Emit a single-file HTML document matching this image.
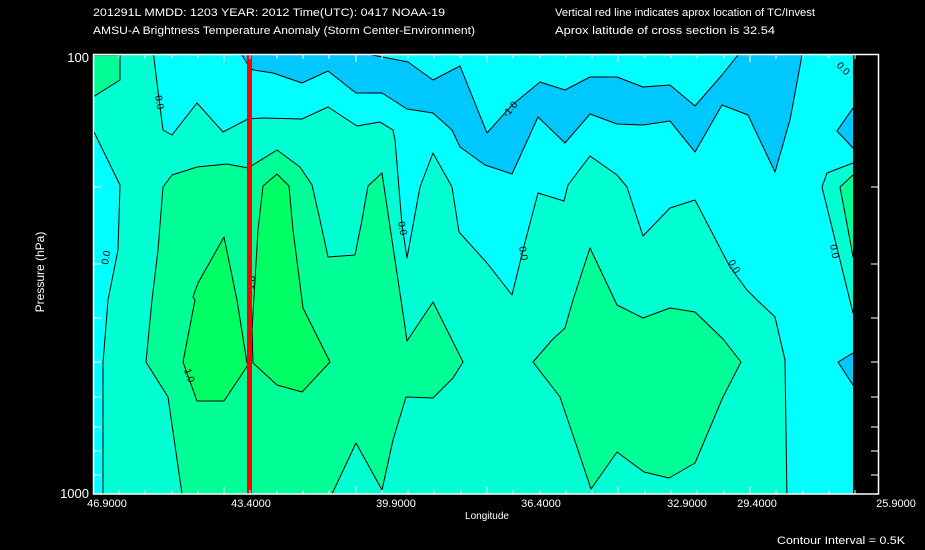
<!DOCTYPE html>
<html><head><meta charset="utf-8"><style>
html,body{margin:0;padding:0;background:#000;}
svg{display:block;}
text{font-family:"Liberation Sans",sans-serif;fill:#fff;}
</style></head><body>
<svg width="925" height="550" viewBox="0 0 925 550" xmlns="http://www.w3.org/2000/svg">
<rect width="925" height="550" fill="#000"/>
<text x="93" y="16" font-size="11" textLength="352" lengthAdjust="spacingAndGlyphs">201291L  MMDD: 1203 YEAR: 2012 Time(UTC): 0417 NOAA-19</text>
<text x="93" y="34" font-size="11" textLength="382" lengthAdjust="spacingAndGlyphs">AMSU-A Brightness Temperature Anomaly (Storm Center-Environment)</text>
<text x="555" y="16" font-size="11" textLength="260" lengthAdjust="spacingAndGlyphs">Vertical red line indicates aprox location of TC/Invest</text>
<text x="555" y="34" font-size="11" textLength="220" lengthAdjust="spacingAndGlyphs">Aprox latitude of cross section is 32.54</text>
<defs><clipPath id="c"><rect x="93" y="55" width="760" height="439"/></clipPath></defs>
<g clip-path="url(#c)" stroke="#000" stroke-width="1" stroke-linejoin="round">
<rect x="93" y="55" width="760" height="439" fill="#00ffd2" stroke="none"/>
<polygon fill="#00ff96" points="93,55 120,55 120,80 93,97"/>
<polygon fill="#00ffff" points="93,125 93,130 120,185 118,250 108,300 103,363 103,494 80,494 80,125"/>
<polygon fill="#00ffff" points="153,50 157,83 163,130 172,135 197,103 223,132 248,119 262,118 302,119 328,107 357,126 380,122 393,130 395,140 402,225 407,258 420,187 433,153 452,187 459,232 487,263 512,295 523,250 538,193 564,201 568,185 590,156 617,175 627,187 643,236 670,208 695,200 730,267 747,290 757,300 775,317 785,360 787,500 860,500 860,313 853,313 822,187 827,173 853,163 860,163 860,50"/>
<polygon fill="#00c8ff" points="242,50 242,55 248,65 253,70 273,73 302,83 328,71 356,93 382,93 407,109 433,113 452,130 460,147 485,165 512,174 538,117 565,143 590,114 617,124 643,125 670,121 695,152 722,105 748,115 775,172 790,120 803,50 738,50 738,55 722,75 695,106 670,85 643,87 617,77 590,77 565,90 540,82 512,105 487,133 460,66 433,80 408,62 372,55 372,50"/>
<polygon fill="#00c8ff" points="860,108 853,108 837,131 853,148 860,148"/>
<polygon fill="#00c8ff" points="860,353 853,353 838,362 853,385 860,385"/>
<polygon fill="#00ff96" points="860,175 853,175 840,187 850,240 853,257 860,257"/>
<polygon fill="#00ff96" points="182,500 182,494 168,397 146,362 152,300 158,250 163,187 172,175 197,167 227,164 248,168 277,150 300,167 312,185 320,220 328,257 355,255 362,220 368,186 382,173 389,220 404,320 407,341 433,302 463,362 453,378 433,398 406,397 393,440 382,490 356,443 332,494 332,500"/>
<polygon fill="#00ff96" points="590,248 617,305 643,318 670,308 695,312 723,339 741,362 723,397 695,463 669,478 644,472 617,452 591,489 577,447 560,397 533,362 552,340 565,328 573,300"/>
<polygon fill="#00ff64" points="224,237 198,283 193,297 195,300 183,362 197,401 224,401 248,365 247,363 237,300"/>
<polygon fill="#00ff64" points="277,174 263,186 258,230 252,330 253,363 277,385 302,392 330,362 303,308 293,230 289,186"/>
</g>
<g font-size="10">
<text x="0" y="0" transform="translate(155,96) rotate(80)" style="fill:#000">0.0</text>
<text x="0" y="0" transform="translate(108,265) rotate(-80)" style="fill:#000">0.0</text>
<text x="0" y="0" transform="translate(398,222) rotate(80)" style="fill:#000">0.0</text>
<text x="0" y="0" transform="translate(519,247) rotate(80)" style="fill:#000">0.0</text>
<text x="0" y="0" transform="translate(728,262) rotate(60)" style="fill:#000">0.0</text>
<text x="0" y="0" transform="translate(830,245) rotate(80)" style="fill:#000">0.0</text>
<text x="0" y="0" transform="translate(836,66) rotate(45)" style="fill:#000">0.0</text>
<text x="0" y="0" transform="translate(507,118) rotate(-50)" style="fill:#000">-1.0</text>
<text x="0" y="0" transform="translate(254,290) rotate(-85)" style="fill:#000">1.0</text>
<text x="0" y="0" transform="translate(184,370) rotate(70)" style="fill:#000">1.0</text>
</g>
<rect x="247" y="55" width="5" height="439" fill="#ff0000"/>
<rect x="853" y="55" width="26" height="439" fill="#000"/>
<rect x="93.5" y="54.5" width="785" height="439.5" fill="none" stroke="#fff" stroke-width="1.5"/>
<g stroke="#fff" stroke-width="1">
<path d="M93,187h8M93,264h8M93,318h8M93,362h8M93,397h8M93,427h8M93,451h8M93,475h8"/>
<path d="M879,187h-8M879,264h-8M879,318h-8M879,362h-8M879,397h-8M879,427h-8M879,451h-8M879,475h-8"/>
<path d="M119,494v-4M145,494v-4M172,494v-4M198,494v-4M224,494v-7M250,494v-4M277,494v-4M303,494v-4M329,494v-4M356,494v-7M382,494v-4M408,494v-4M434,494v-4M461,494v-4M487,494v-7M513,494v-4M540,494v-4M566,494v-4M592,494v-4M618,494v-7M645,494v-4M671,494v-4M697,494v-4M724,494v-4M750,494v-7M776,494v-4M803,494v-4M829,494v-4M855,494v-4"/>
<path d="M119,55v4M145,55v4M172,55v4M198,55v4M224,55v7M250,55v4M277,55v4M303,55v4M329,55v4M356,55v7M382,55v4M408,55v4M434,55v4M461,55v4M487,55v7M513,55v4M540,55v4M566,55v4M592,55v4M618,55v7M645,55v4M671,55v4M697,55v4M724,55v4M750,55v7M776,55v4M803,55v4M829,55v4M855,55v4"/>
</g>
<text x="89" y="62" font-size="13" text-anchor="end">100</text>
<text x="89" y="498" font-size="13" text-anchor="end">1000</text>
<g font-size="11" text-anchor="middle">
<text x="107" y="507">46.9000</text>
<text x="251" y="507">43.4000</text>
<text x="396" y="507">39.9000</text>
<text x="541" y="507">36.4000</text>
<text x="687" y="507">32.9000</text>
<text x="757" y="507">29.4000</text>
<text x="896" y="507">25.9000</text>
</g>
<text x="487" y="519" font-size="10" text-anchor="middle">Longitude</text>
<text x="0" y="0" font-size="12" text-anchor="middle" transform="translate(44,272) rotate(-90)">Pressure (hPa)</text>
<text x="777" y="544" font-size="11" textLength="128" lengthAdjust="spacingAndGlyphs">Contour Interval = 0.5K</text>
</svg>
</body></html>
